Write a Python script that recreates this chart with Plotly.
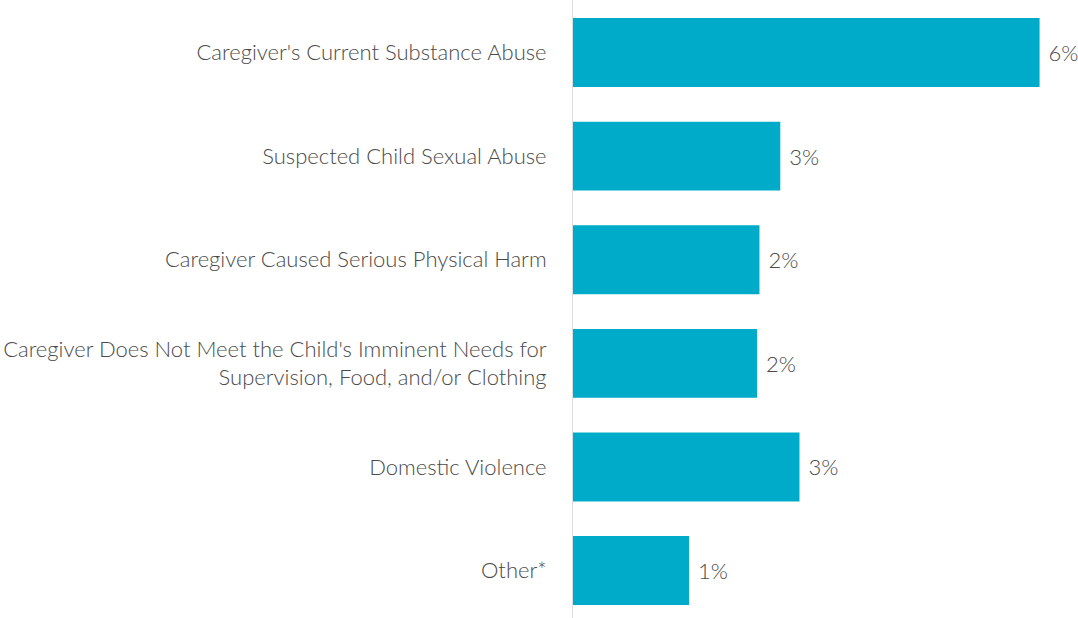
import plotly.graph_objects as go

# Share of cases by primary allegation (percent)
categories = [
    "Caregiver's Current Substance Abuse",
    "Suspected Child Sexual Abuse",
    "Caregiver Caused Serious Physical Harm",
    "Caregiver Does Not Meet the Child's Imminent Needs for<br>Supervision, Food, and/or Clothing",
    "Domestic Violence",
    "Other*",
]
values = [5.83, 2.59, 2.33, 2.30, 2.83, 1.45]

bar_color = "#00ABC9"
text_color = "#4A4A4A"
font_family = "Lato, 'Noto Sans', sans-serif"
label_font = dict(family=font_family, size=22, color=text_color, weight=300)

fig = go.Figure(
    go.Bar(
        x=values,
        y=categories,
        orientation="h",
        marker=dict(color=bar_color, line=dict(width=0)),
        texttemplate=" %{x:.0f}%",
        textposition="outside",
        textfont=label_font,
        cliponaxis=False,
        hoverinfo="skip",
    )
)

fig.update_layout(
    width=1078,
    height=618,
    margin=dict(l=573, r=0, t=0, b=0),
    paper_bgcolor="white",
    plot_bgcolor="white",
    bargap=0.335,
    showlegend=False,
    font=label_font,
)

fig.update_xaxes(
    range=[0, 6.31],
    showgrid=False,
    zeroline=False,
    showline=False,
    showticklabels=False,
    ticks="",
)

fig.update_yaxes(
    type="category",
    range=[5.458, -0.507],
    showgrid=False,
    zeroline=False,
    showline=True,
    linecolor="#DDDDDD",
    linewidth=1,
    ticks="",
    ticklabelstandoff=21,
    tickfont=label_font,
)

fig.write_html("out.html")
